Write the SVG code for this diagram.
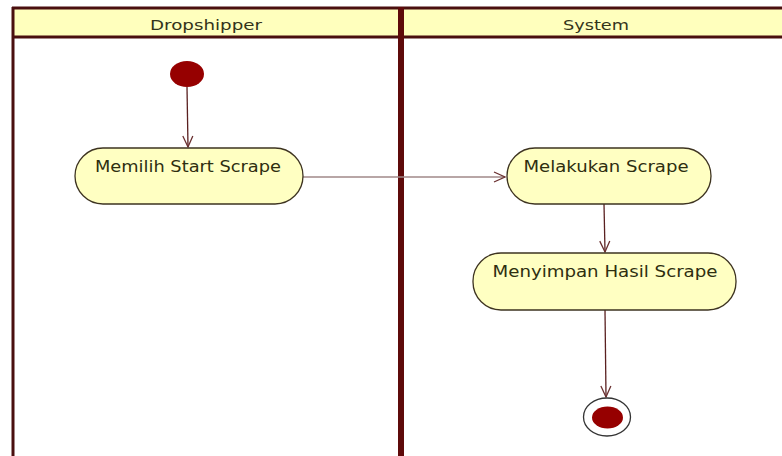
<svg xmlns="http://www.w3.org/2000/svg" width="782" height="456" viewBox="0 0 782 456">
<style>
.frame{stroke:#4a0f0f;fill:none}
.hdr{fill:#ffffbd}
.hdrtxt{font-family:"DejaVu Sans",Verdana,sans-serif;font-size:14.5px;fill:#33331a;text-anchor:middle}
.act{fill:#ffffc2;stroke:#3d3320;stroke-width:1.3}
.acttxt{font-family:"DejaVu Sans",Verdana,sans-serif;font-size:16px;fill:#2e2e10;text-anchor:middle}
.con{stroke:#5a2020;stroke-width:1.3;fill:none}
.con2{stroke:#a08888;stroke-width:1.6;fill:none}
.dot{fill:#960000}
</style>
<defs>
<marker id="open" markerWidth="14" markerHeight="12" refX="12" refY="6" orient="auto" markerUnits="userSpaceOnUse">
<path d="M1,1 L12,6 L1,11" fill="none" stroke="#6a3030" stroke-width="1.3"/>
</marker>
</defs>
<rect width="782" height="456" fill="#ffffff"/>
<g id="swimlanes">
<rect class="hdr" x="12" y="8" width="776" height="29"/>
<line class="frame" x1="12" y1="8" x2="782" y2="8" stroke-width="3"/>
<line class="frame" x1="12" y1="37" x2="782" y2="37" stroke-width="3"/>
<line class="frame" x1="13" y1="7" x2="13" y2="456" stroke-width="3"/>
<line class="frame" x1="401" y1="7" x2="401" y2="456" stroke-width="6" style="stroke:#5e0a0a"/>
<text class="hdrtxt" x="206" y="30" textLength="112" lengthAdjust="spacingAndGlyphs">Dropshipper</text>
<text class="hdrtxt" x="596" y="30" textLength="66" lengthAdjust="spacingAndGlyphs">System</text>
</g>
<g id="connectors">
<path class="con" d="M187,87 L188,147" marker-end="url(#open)"/>
<path class="con2" d="M303,177 L505,177" marker-end="url(#open)"/>
<path class="con" d="M604,204 L605,252" marker-end="url(#open)"/>
<path class="con" d="M605,310 L606,397" marker-end="url(#open)"/>
</g>
<g id="start">
<ellipse class="dot" cx="187" cy="74" rx="17" ry="13"/>
</g>
<g id="act1">
<rect class="act" x="75" y="148" width="228" height="56" rx="28" ry="28"/>
<text class="acttxt" x="188" y="172" textLength="186" lengthAdjust="spacingAndGlyphs">Memilih Start Scrape</text>
</g>
<g id="act2">
<rect class="act" x="507" y="148" width="204" height="56" rx="28" ry="28"/>
<text class="acttxt" x="606" y="172" textLength="165" lengthAdjust="spacingAndGlyphs">Melakukan Scrape</text>
</g>
<g id="act3">
<rect class="act" x="473" y="253" width="263" height="57" rx="28" ry="28"/>
<text class="acttxt" x="605" y="277" textLength="225" lengthAdjust="spacingAndGlyphs">Menyimpan Hasil Scrape</text>
</g>
<g id="end">
<ellipse cx="607" cy="417" rx="23.5" ry="19" fill="#ffffff" stroke="#333333" stroke-width="1.3"/>
<ellipse class="dot" cx="607.5" cy="417.5" rx="15.5" ry="11"/>
</g>
</svg>
